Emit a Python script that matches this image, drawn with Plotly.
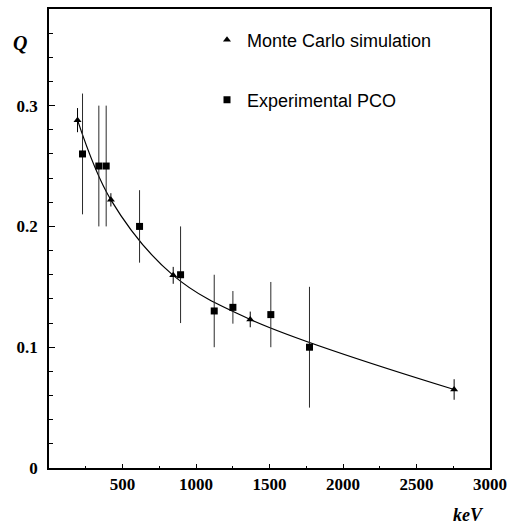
import plotly.graph_objects as go

# Monte Carlo simulation (triangles)
mc_x = [194, 421, 845, 1369, 2756]
mc_y = [0.288, 0.222, 0.1595, 0.123, 0.065]
mc_err = [0.010, 0.0055, 0.007, 0.0065, 0.0085]

# Experimental PCO (squares)
exp_x = [228, 339, 389, 616, 895, 1124, 1251, 1509, 1772]
exp_y = [0.26, 0.25, 0.25, 0.20, 0.16, 0.13, 0.133, 0.127, 0.10]
exp_err = [0.05, 0.05, 0.05, 0.03, 0.04, 0.03, 0.0135, 0.027, 0.05]

x_ticks = [500, 1000, 1500, 2000, 2500, 3000]
y_ticks = [0, 0.1, 0.2, 0.3]

W, H = 510, 527
L, R, T, B = 49, 20, 9, 59
pw, ph = W - L - R, H - T - B

def px_x(p):
    return (p - L) / pw

def px_y(p):
    return (H - B - p) / ph

fig = go.Figure()

# smooth curve through the Monte Carlo points
fig.add_trace(go.Scatter(
    x=mc_x, y=mc_y, mode="lines",
    line=dict(color="black", width=1.2, shape="spline", smoothing=1.0),
    showlegend=False, hoverinfo="skip",
))

fig.add_trace(go.Scatter(
    x=mc_x, y=mc_y, mode="markers", name="Monte Carlo simulation",
    marker=dict(symbol="triangle-up", size=7, color="black"),
    error_y=dict(type="data", array=mc_err, visible=True, color="black",
                 thickness=1, width=0),
    legend="legend",
))

fig.add_trace(go.Scatter(
    x=exp_x, y=exp_y, mode="markers", name="Experimental PCO",
    marker=dict(symbol="square", size=7, color="black"),
    error_y=dict(type="data", array=exp_err, visible=True, color="#2a2a2a",
                 thickness=1, width=0),
    legend="legend2",
))

tick_font = dict(family="Liberation Serif", size=17, color="black", weight="bold")

fig.update_xaxes(
    range=[0, 3000], tickvals=x_ticks, ticktext=[str(v) for v in x_ticks],
    ticks="inside", ticklen=4, tickwidth=1, tickcolor="black",
    minor=dict(dtick=250, ticks="inside", ticklen=2, tickcolor="black"),
    showline=True, linecolor="black", linewidth=1.5, mirror=True,
    showgrid=False, zeroline=False, tickfont=tick_font, ticklabelstandoff=0,
    automargin=False,
)
fig.update_yaxes(
    range=[0, 0.38], tickvals=y_ticks, ticktext=["0", "0.1", "0.2", "0.3"],
    ticks="inside", ticklen=6, tickwidth=1, tickcolor="black",
    minor=dict(dtick=0.02, ticks="inside", ticklen=4, tickcolor="black"),
    showline=True, linecolor="black", linewidth=1.5, mirror=True,
    showgrid=False, zeroline=False, tickfont=tick_font, ticklabelstandoff=6,
    automargin=False,
)

legend_font = dict(family="Liberation Sans", size=18, color="black")
fig.update_layout(
    width=W, height=H,
    margin=dict(l=L, r=R, t=T, b=B, autoexpand=False),
    paper_bgcolor="white", plot_bgcolor="white",
    legend=dict(x=px_x(207), y=px_y(40), xanchor="left", yanchor="middle",
                font=legend_font, bgcolor="rgba(0,0,0,0)", borderwidth=0),
    legend2=dict(x=px_x(207), y=px_y(100), xanchor="left", yanchor="middle",
                 font=legend_font, bgcolor="rgba(0,0,0,0)", borderwidth=0),
    annotations=[
        dict(text="<b><i>Q</i></b>", x=px_x(20), y=px_y(43), xref="paper", yref="paper",
             showarrow=False, xanchor="center", yanchor="middle",
             font=dict(family="Liberation Serif", size=20, color="black")),
        dict(text="<b><i>keV</i></b>", x=px_x(486), y=px_y(515), xref="paper", yref="paper",
             showarrow=False, xanchor="right", yanchor="middle",
             font=dict(family="Liberation Serif", size=18, color="black")),
    ],
)

fig.write_html("out.html",
               config=dict(displayModeBar=False),
               post_script="document.body.style.margin='0px';document.body.style.overflow='hidden';")
